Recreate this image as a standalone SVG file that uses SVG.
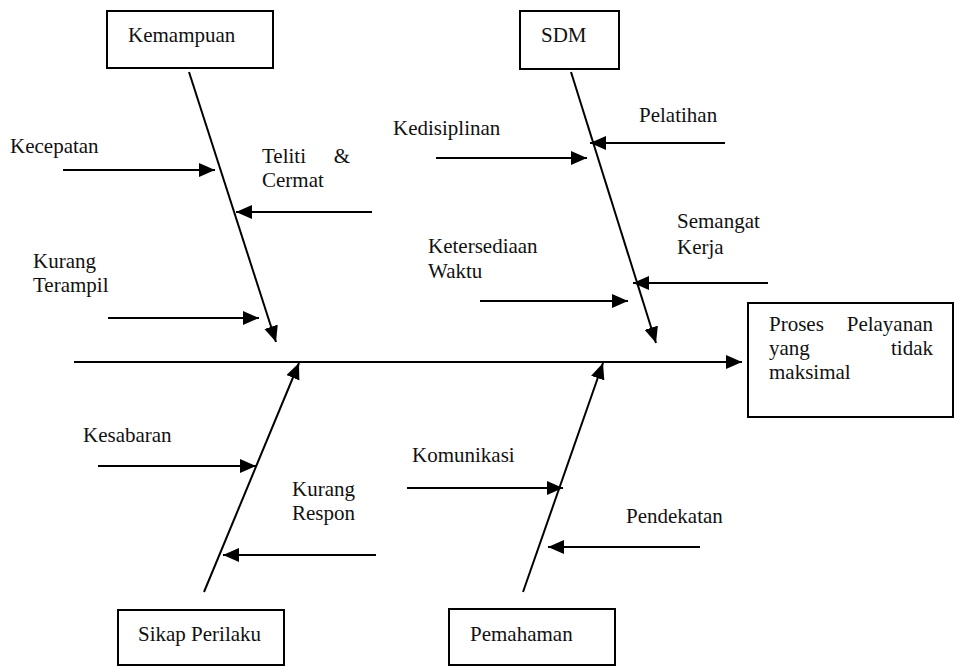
<svg xmlns="http://www.w3.org/2000/svg" width="956" height="666" viewBox="0 0 956 666">
<style>
text{font-family:"Liberation Serif","Times New Roman",serif;font-size:21px;fill:#111}
.box{fill:#fff;stroke:#000;stroke-width:2}
.ar{stroke:#000;stroke-width:2;fill:none;marker-end:url(#ah)}
</style>
<defs>
<marker id="ah" markerUnits="userSpaceOnUse" markerWidth="18" markerHeight="16" refX="16" refY="7" orient="auto">
<path d="M0,0 L16,7 L0,14 z" fill="#000"/>
</marker>
</defs>
<rect width="956" height="666" fill="#fff"/>
<g id="connectors">
<line class="ar" x1="74" y1="362" x2="742" y2="362"/>
<line class="ar" x1="189" y1="72" x2="276" y2="342"/>
<line class="ar" x1="571" y1="72" x2="656" y2="343"/>
<line class="ar" x1="204" y1="592" x2="299" y2="363"/>
<line class="ar" x1="523" y1="592" x2="603" y2="363"/>
<line class="ar" x1="63" y1="170" x2="215" y2="170"/>
<line class="ar" x1="372" y1="212" x2="236" y2="212"/>
<line class="ar" x1="108" y1="318" x2="259" y2="318"/>
<line class="ar" x1="436" y1="158" x2="587" y2="158"/>
<line class="ar" x1="725" y1="143" x2="590" y2="143"/>
<line class="ar" x1="768" y1="283" x2="633" y2="283"/>
<line class="ar" x1="480" y1="301" x2="628" y2="301"/>
<line class="ar" x1="98" y1="466" x2="256" y2="466"/>
<line class="ar" x1="376" y1="555" x2="223" y2="555"/>
<line class="ar" x1="407" y1="488" x2="563" y2="488"/>
<line class="ar" x1="700" y1="547" x2="548" y2="547"/>
</g>
<g id="kemampuan">
<rect class="box" x="107" y="11" width="166" height="57"/>
<text x="128" y="42">Kemampuan</text>
</g>
<g id="sdm">
<rect class="box" x="520" y="11" width="99" height="58"/>
<text x="541" y="42">SDM</text>
</g>
<g id="sikap-perilaku">
<rect class="box" x="118" y="610" width="166" height="55"/>
<text x="138" y="641">Sikap Perilaku</text>
</g>
<g id="pemahaman">
<rect class="box" x="449" y="609" width="166" height="56"/>
<text x="470" y="641">Pemahaman</text>
</g>
<g id="result">
<rect class="box" x="748" y="303" width="205" height="114"/>
<text x="769" y="331">Proses</text>
<text x="933" y="331" text-anchor="end">Pelayanan</text>
<text x="769" y="355">yang</text>
<text x="933" y="355" text-anchor="end">tidak</text>
<text x="769" y="379">maksimal</text>
</g>
<g id="labels">
<text x="10" y="153">Kecepatan</text>
<text x="262" y="163">Teliti</text>
<text x="350" y="163" text-anchor="end">&amp;</text>
<text x="262" y="187">Cermat</text>
<text x="33" y="268">Kurang</text>
<text x="33" y="292">Terampil</text>
<text x="393" y="135">Kedisiplinan</text>
<text x="639" y="122">Pelatihan</text>
<text x="677" y="228">Semangat</text>
<text x="677" y="254">Kerja</text>
<text x="428" y="253">Ketersediaan</text>
<text x="428" y="278">Waktu</text>
<text x="83" y="442">Kesabaran</text>
<text x="292" y="496">Kurang</text>
<text x="292" y="520">Respon</text>
<text x="412" y="462">Komunikasi</text>
<text x="626" y="523">Pendekatan</text>
</g>
</svg>
